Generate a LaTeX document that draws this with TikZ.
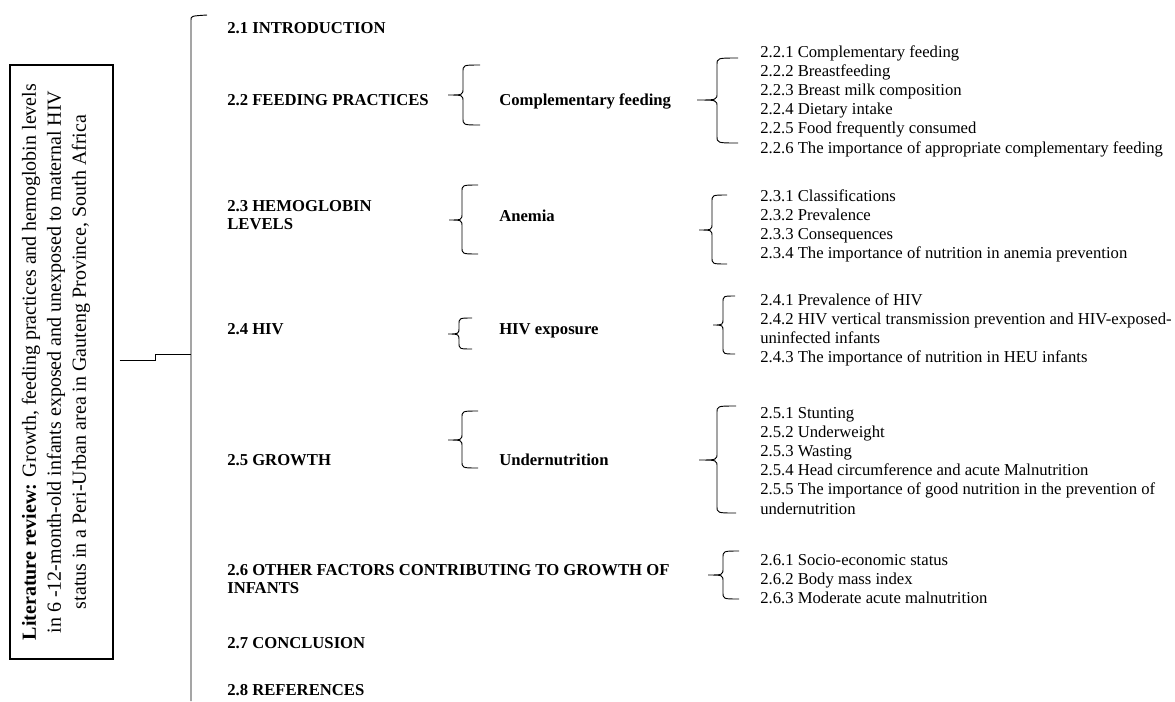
\documentclass[tikz,border=0pt]{standalone}
\usepackage{fontspec}
\setmainfont{Liberation Serif}
\usetikzlibrary{calc}

\newcommand{\twelve}{\fontsize{12.5}{13.5}\selectfont}

\tikzset{
  sec/.style={font=\twelve\bfseries, anchor=base west, inner sep=0pt, align=left},
  sub/.style={font=\twelve\bfseries, anchor=base west, inner sep=0pt},
  item/.style={font=\twelve, anchor=base west, inner sep=0pt},
  brc/.style={line width=0.7pt},
}

% curly bracket: tip x, middle y, bar x, top y, bottom y, end x
\newcommand{\curly}[6]{%
  \draw[brc] (#6,#4) .. controls (#3,#4) .. (#3,{#4+7}) -- (#3,{#2-7})
    .. controls (#3,#2) .. (#1,#2)
    .. controls (#3,#2) .. (#3,{#2+7}) -- (#3,{#5-7})
    .. controls (#3,#5) .. (#6,#5);}

\begin{document}
\begin{tikzpicture}[x=0.75pt,y=-0.75pt]
  \useasboundingbox (0,0) rectangle (1175,701);

  % title box on the left
  \node[draw, line width=0.8pt, minimum width=77.25pt, minimum height=445.5pt] (box) at (61.5,362) {};
  \node[rotate=90, align=center, font=\fontsize{15}{18.75}\selectfont] (title) at (56,362)
    {\textbf{Literature review:} Growth, feeding practices and hemoglobin levels\\
     in 6 -12-month-old infants exposed and unexposed to maternal HIV\\
     status in a Peri-Urban area in Gauteng Province, South Africa};

  % main bracket
  \coordinate (bartop) at (207,15);
  \coordinate (barbot) at (191,701);
  \coordinate (barin) at (191,354);
  \draw[brc] (barbot) -- (191,20) .. controls (191,16) .. (bartop);
  \draw[brc] ($(box.east)+(6,-2)$) -- (155,360) -- (155,354) -- (barin);

  % chapter sections (base = last line)
  \node[sec] (s21) at (227,33) {2.1 INTRODUCTION};
  \node[sec] (s22) at (227,105) {2.2 FEEDING PRACTICES};
  \node[sec] (s23) at (227,229) {2.3 HEMOGLOBIN\\LEVELS};
  \node[sec] (s24) at (227,334) {2.4 HIV};
  \node[sec] (s25) at (227,465) {2.5 GROWTH};
  \node[sec] (s26) at (227,593) {2.6 OTHER FACTORS CONTRIBUTING TO GROWTH OF\\INFANTS};
  \node[sec] (s27) at (227,648) {2.7 CONCLUSION};
  \node[sec] (s28) at (227,695) {2.8 REFERENCES};

  % sub topics
  \node[sub] (t22) at (499,105) {Complementary feeding};
  \node[sub] (t23) at (499,221) {Anemia};
  \node[sub] (t24) at (499,334) {HIV exposure};
  \node[sub] (t25) at (499,465) {Undernutrition};

  % sub sections
  \foreach \t [count=\i from 0] in {2.2.1 Complementary feeding, 2.2.2 Breastfeeding,
      2.2.3 Breast milk composition, 2.2.4 Dietary intake, 2.2.5 Food frequently consumed,
      2.2.6 The importance of appropriate complementary feeding}
    \node[item] (l22-\i) at (760,{57+19.2*\i}) {\t};
  \foreach \t [count=\i from 0] in {2.3.1 Classifications, 2.3.2 Prevalence,
      2.3.3 Consequences, 2.3.4 The importance of nutrition in anemia prevention}
    \node[item] (l23-\i) at (760,{201+19.2*\i}) {\t};
  \foreach \t [count=\i from 0] in {2.4.1 Prevalence of HIV,
      2.4.2 HIV vertical transmission prevention and HIV-exposed-, uninfected infants,
      2.4.3 The importance of nutrition in HEU infants}
    \node[item] (l24-\i) at (760,{305+19.2*\i}) {\t};
  \foreach \t [count=\i from 0] in {2.5.1 Stunting, 2.5.2 Underweight, 2.5.3 Wasting,
      2.5.4 Head circumference and acute Malnutrition,
      2.5.5 The importance of good nutrition in the prevention of, undernutrition}
    \node[item] (l25-\i) at (760,{418+19.2*\i}) {\t};
  \foreach \t [count=\i from 0] in {2.6.1 Socio-economic status, 2.6.2 Body mass index,
      2.6.3 Moderate acute malnutrition}
    \node[item] (l26-\i) at (760,{565+19.2*\i}) {\t};

  % brackets from sections to sub topics
  \curly{448}{95}{463}{65}{125}{480}
  \curly{449}{220}{462}{185}{254}{478}
  \curly{448}{334}{459}{318}{349}{472}
  \curly{448}{440}{462}{411}{468}{478}

  % brackets from sub topics to sub sections
  \curly{697}{100}{717}{58}{143}{738}
  \curly{699}{230}{712}{195}{264}{727}
  \curly{713}{325}{723}{296}{354}{735}
  \curly{699}{460}{717}{406}{513}{736}
  \curly{708}{575}{723}{551}{599}{739}
\end{tikzpicture}
\end{document}
